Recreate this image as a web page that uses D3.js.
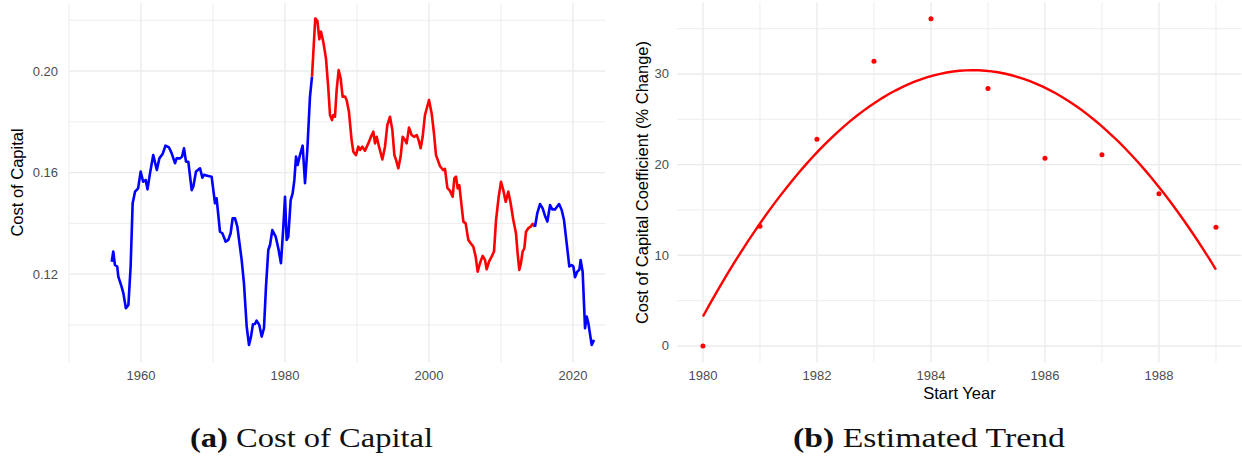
<!DOCTYPE html>
<html>
<head>
<meta charset="utf-8">
<script src="https://cdn.jsdelivr.net/npm/d3@7"></script>
<style>
	body{margin:0;background:#fff;}
	text{font-family:"Liberation Sans",Arial,sans-serif;}
</style>
</head>
<body>
<script>
// ---- panel (a): cost of capital series ----
var ccYear = [1955.93,1956.15,1956.38,1956.7,1956.85,1957.3,1957.55,1957.9,1958.25,1958.56,1958.84,1959.17,1959.6,1959.95,
	1960.3,1960.65,1960.9,1961.25,1961.7,1962.2,1962.55,1963.0,1963.4,1963.89,1964.26,1964.72,1964.95,1965.42,1965.7,1965.97,
	1966.25,1966.57,1967.04,1967.27,1967.64,1968.2,1968.52,1968.75,1969.35,1969.81,1970.28,1970.5,1970.97,1971.3,1971.76,
	1972.13,1972.45,1972.73,1973.06,1973.38,1973.98,1974.3,1974.68,1975.0,1975.28,1975.55,1975.83,1976.06,1976.43,1976.76,
	1977.08,1977.36,1977.68,1977.92,1978.24,1978.7,1979.07,1979.44,1979.77,1980.0,1980.23,1980.46,1980.79,1981.06,1981.3,
	1981.53,1981.76,1982.08,1982.45,1982.78,1983.1,1983.47,1983.75,1983.93,1984.2,1984.5,1984.77,1985.0,1985.32,1985.69,
	1986.0,1986.25,1986.53,1986.7,1986.94,1987.17,1987.45,1987.73,1988.0,1988.33,1988.56,1988.88,1989.25,1989.49,1989.86,
	1990.18,1990.42,1990.74,1991.11,1991.57,1992.04,1992.27,1992.5,1992.73,1993.06,1993.52,1993.89,1994.21,1994.58,1994.91,
	1995.19,1995.42,1995.74,1996.06,1996.34,1996.67,1996.9,1997.22,1997.59,1997.92,1998.29,1998.56,1998.84,1999.12,1999.44,
	2000.0,2000.37,2000.69,2000.97,2001.3,2001.53,2001.99,2002.22,2002.55,2002.92,2003.29,2003.52,2003.75,2003.98,2004.21,
	2004.44,2004.77,2005.09,2005.46,2005.79,2006.16,2006.48,2006.76,2007.08,2007.45,2007.78,2008.01,2008.33,2008.7,2009.03,
	2009.31,2009.68,2010.0,2010.32,2010.65,2011.02,2011.34,2011.71,2012.08,2012.31,2012.54,2012.77,2013.0,2013.24,2013.47,
	2013.79,2014.12,2014.4,2014.72,2015.04,2015.42,2015.79,2016.16,2016.44,2016.81,2017.13,2017.5,2018.06,2018.43,2018.75,
	2019.12,2019.49,2019.81,2020.05,2020.28,2020.6,2020.88,2021.06,2021.34,2021.67,2021.9,2022.13,2022.6,2022.92];
var ccValue = [0.1249,0.1289,0.1236,0.1230,0.1190,0.1151,0.1125,0.1066,0.1079,0.1230,0.1479,0.1525,0.1538,0.1604,
	0.1564,0.1571,0.1534,0.1597,0.1669,0.1610,0.1656,0.1673,0.1706,0.1699,0.1676,0.1637,0.1656,0.1656,0.1663,0.1696,
	0.1643,0.1643,0.1531,0.1545,0.1604,0.1617,0.1580,0.1591,0.1587,0.1584,0.1479,0.1499,0.1367,0.1361,0.1328,
	0.1335,0.1361,0.1420,0.1420,0.1387,0.1256,0.1164,0.0993,0.0921,0.0954,0.1003,0.1004,0.1017,0.1000,0.0954,
	0.0987,0.1151,0.1295,0.1315,0.1374,0.1348,0.1302,0.1243,0.1387,0.1505,0.1335,0.1348,0.1492,0.1518,0.1571,
	0.1663,0.1630,0.1669,0.1706,0.1558,0.1689,0.1899,0.1978,0.2070,0.2207,0.2198,0.2125,0.2155,0.2115,0.2050,
	0.1938,0.1827,0.1807,0.1827,0.1820,0.1925,0.2004,0.1971,0.1899,0.1900,0.1886,0.1840,0.1728,0.1682,0.1669,
	0.1702,0.1689,0.1702,0.1686,0.1715,0.1748,0.1761,0.1715,0.1741,0.1702,0.1652,0.1702,0.1787,0.1820,0.1768,
	0.1669,0.1650,0.1617,0.1663,0.1741,0.1728,0.1715,0.1777,0.1748,0.1741,0.1748,0.1728,0.1696,0.1741,0.1827,
	0.1886,0.1833,0.1755,0.1669,0.1643,0.1625,0.1610,0.1615,0.1540,0.1528,0.1505,0.1578,0.1584,0.1538,0.1551,
	0.1492,0.1407,0.1400,0.1335,0.1322,0.1308,0.1269,0.1210,0.1243,0.1272,0.1256,0.1219,0.1249,0.1269,0.1289,
	0.1413,0.1505,0.1564,0.1531,0.1485,0.1525,0.1479,0.1413,0.1361,0.1282,0.1217,0.1243,0.1289,0.1302,0.1367,
	0.1381,0.1387,0.1398,0.1387,0.1440,0.1476,0.1459,0.1426,0.1407,0.1472,0.1455,0.1455,0.1476,0.1453,0.1413,
	0.1322,0.1230,0.1236,0.1230,0.1188,0.1210,0.1217,0.1256,0.1210,0.0987,0.1033,0.1007,0.0921,0.0941];
var redPeriod = [1983.93, 2014.72];
var ccXTicks = [1960, 1980, 2000, 2020];
var ccYTicks = [0.12, 0.16, 0.20];

// ---- panel (b): estimated coefficients ----
var startYear = [1980,1981,1982,1983,1984,1985,1986,1987,1988,1989];
var coefPct = [0, 13.2, 22.8, 31.4, 36.1, 28.4, 20.7, 21.1, 16.8, 13.1];
var trendXTicks = [1980, 1982, 1984, 1986, 1988];
var trendYTicks = [0, 10, 20, 30];

var W = 1242, H = 462;
var svg = d3.select("body").append("svg")
	.attr("width", W).attr("height", H)
	.style("background", "#fff");

var gridCol = "#EBEBEB", tickCol = "#4D4D4D";

function drawGrid(g, x, y, xMajor, xMinor, yMajor, yMinor){
	var x0 = x.range()[0], x1 = x.range()[1], y0 = y.range()[0], y1 = y.range()[1];
	g.selectAll("line.vmin").data(xMinor).enter().append("line")
		.attr("x1", x).attr("x2", x).attr("y1", y0).attr("y2", y1)
		.attr("stroke", gridCol).attr("stroke-width", 0.9);
	g.selectAll("line.hmin").data(yMinor).enter().append("line")
		.attr("y1", y).attr("y2", y).attr("x1", x0).attr("x2", x1)
		.attr("stroke", gridCol).attr("stroke-width", 0.9);
	g.selectAll("line.vmaj").data(xMajor).enter().append("line")
		.attr("x1", x).attr("x2", x).attr("y1", y0).attr("y2", y1)
		.attr("stroke", gridCol).attr("stroke-width", 1.4);
	g.selectAll("line.hmaj").data(yMajor).enter().append("line")
		.attr("y1", y).attr("y2", y).attr("x1", x0).attr("x2", x1)
		.attr("stroke", gridCol).attr("stroke-width", 1.4);
}

function drawTickLabels(g, x, y, xTicks, yTicks, fmtY, yLabelX){
	g.selectAll("text.xt").data(xTicks).enter().append("text")
		.attr("x", x).attr("y", 380)
		.attr("text-anchor", "middle")
		.attr("font-size", 13).attr("fill", tickCol)
		.text(function(d){ return d; });
	g.selectAll("text.yt").data(yTicks).enter().append("text")
		.attr("x", yLabelX).attr("y", function(d){ return y(d) + 4.5; })
		.attr("text-anchor", "end")
		.attr("font-size", 13).attr("fill", tickCol)
		.text(fmtY);
}

// ================= panel (a) =================
var xa = d3.scaleLinear().domain([1950, 2024.5]).range([69, 605.4]);
var ya = d3.scaleLinear().domain([0.0854, 0.2268]).range([362, 3]);
var ga = svg.append("g");

drawGrid(ga, xa, ya, ccXTicks, [1950, 1970, 1990, 2010],
	ccYTicks, [0.10, 0.14, 0.18, 0.22]);
drawTickLabels(ga, xa, ya, ccXTicks, ccYTicks, d3.format(".2f"), 58);

var ccData = ccYear.map(function(d, i){ return {x: d, v: ccValue[i]}; });
// split into colour runs; neighbouring runs share their boundary point
var runs = [];
ccData.forEach(function(d){
	var isRed = d.x >= redPeriod[0] && d.x <= redPeriod[1];
	var last = runs[runs.length - 1];
	if(!last || last.red !== isRed){
		var run = {red: isRed, pts: []};
		if(last) run.pts.push(last.pts[last.pts.length - 1]);
		runs.push(run);
		last = run;
	}
	last.pts.push(d);
});

var lineA = d3.line().x(function(d){ return xa(d.x); }).y(function(d){ return ya(d.v); });
ga.selectAll("path.cc").data(runs).enter().append("path")
	.attr("d", function(r){ return lineA(r.pts); })
	.attr("fill", "none")
	.attr("stroke", function(r){ return r.red ? "#FF0000" : "#0000FF"; })
	.attr("stroke-width", 2.6)
	.attr("stroke-linejoin", "round");

ga.append("text")
	.attr("transform", "translate(23,182.5) rotate(-90)")
	.attr("text-anchor", "middle")
	.attr("font-size", 16.5).attr("fill", "#000")
	.text("Cost of Capital");

// ================= panel (b) =================
var xb = d3.scaleLinear().domain([1979.55, 1989.45]).range([677.3, 1241.6]);
var yb = d3.scaleLinear().domain([-1.805, 37.905]).range([362.3, 2.3]);
var gb = svg.append("g");

drawGrid(gb, xb, yb, trendXTicks, [1981, 1983, 1985, 1987, 1989],
	trendYTicks, [5, 15, 25, 35]);
drawTickLabels(gb, xb, yb, trendXTicks, trendYTicks, function(d){ return d; }, 669);

// quadratic least-squares fit, as geom_smooth(method = "lm", y ~ poly(x, 2))
function quadFit(xs, ys){
	var mx = d3.mean(xs);
	var S = [[0,0,0],[0,0,0],[0,0,0]], B = [0,0,0];
	xs.forEach(function(xv, i){
		var t = xv - mx, row = [1, t, t*t];
		for(var a=0;a<3;a++){
			B[a] += row[a]*ys[i];
			for(var b=0;b<3;b++) S[a][b] += row[a]*row[b];
		}
	});
	// gaussian elimination
	for(var c=0;c<3;c++){
		for(var r=c+1;r<3;r++){
			var f = S[r][c]/S[c][c];
			for(var k=c;k<3;k++) S[r][k] -= f*S[c][k];
			B[r] -= f*B[c];
		}
	}
	var co = [0,0,0];
	for(var r2=2;r2>=0;r2--){
		var s = B[r2];
		for(var k2=r2+1;k2<3;k2++) s -= S[r2][k2]*co[k2];
		co[r2] = s/S[r2][r2];
	}
	return function(xv){ var t = xv - mx; return co[0] + co[1]*t + co[2]*t*t; };
}

var fit = quadFit(startYear, coefPct);
var fitPts = d3.range(0, 81).map(function(i){
	var xv = startYear[0] + (startYear[startYear.length-1] - startYear[0]) * i / 80;
	return {x: xv, v: fit(xv)};
});
var lineB = d3.line().x(function(d){ return xb(d.x); }).y(function(d){ return yb(d.v); });
gb.append("path")
	.attr("d", lineB(fitPts))
	.attr("fill", "none")
	.attr("stroke", "#FF0000")
	.attr("stroke-width", 2.4);

gb.selectAll("circle").data(startYear).enter().append("circle")
	.attr("cx", function(d){ return xb(d); })
	.attr("cy", function(d, i){ return yb(coefPct[i]); })
	.attr("r", 2.5)
	.attr("fill", "#FF0000");

gb.append("text")
	.attr("transform", "translate(648,182.5) rotate(-90)")
	.attr("text-anchor", "middle")
	.attr("font-size", 16.5).attr("fill", "#000")
	.text("Cost of Capital Coefficient (% Change)");

gb.append("text")
	.attr("x", (xb.range()[0] + xb.range()[1]) / 2).attr("y", 399)
	.attr("text-anchor", "middle")
	.attr("font-size", 16.5).attr("fill", "#000")
	.text("Start Year");

// ================= captions =================
function caption(cx, label, title, width){
	var t = svg.append("text")
		.attr("x", cx).attr("y", 447)
		.attr("text-anchor", "middle")
		.style("font-family", "'Liberation Serif','Times New Roman',serif")
		.attr("font-size", 28).attr("fill", "#111")
		.attr("textLength", width).attr("lengthAdjust", "spacingAndGlyphs");
	t.append("tspan").attr("font-weight", "bold").text(label);
	t.append("tspan").text(" " + title);
}
caption(311.5, "(a)", "Cost of Capital", 243);
caption(929, "(b)", "Estimated Trend", 272);
</script>
</body>
</html>
